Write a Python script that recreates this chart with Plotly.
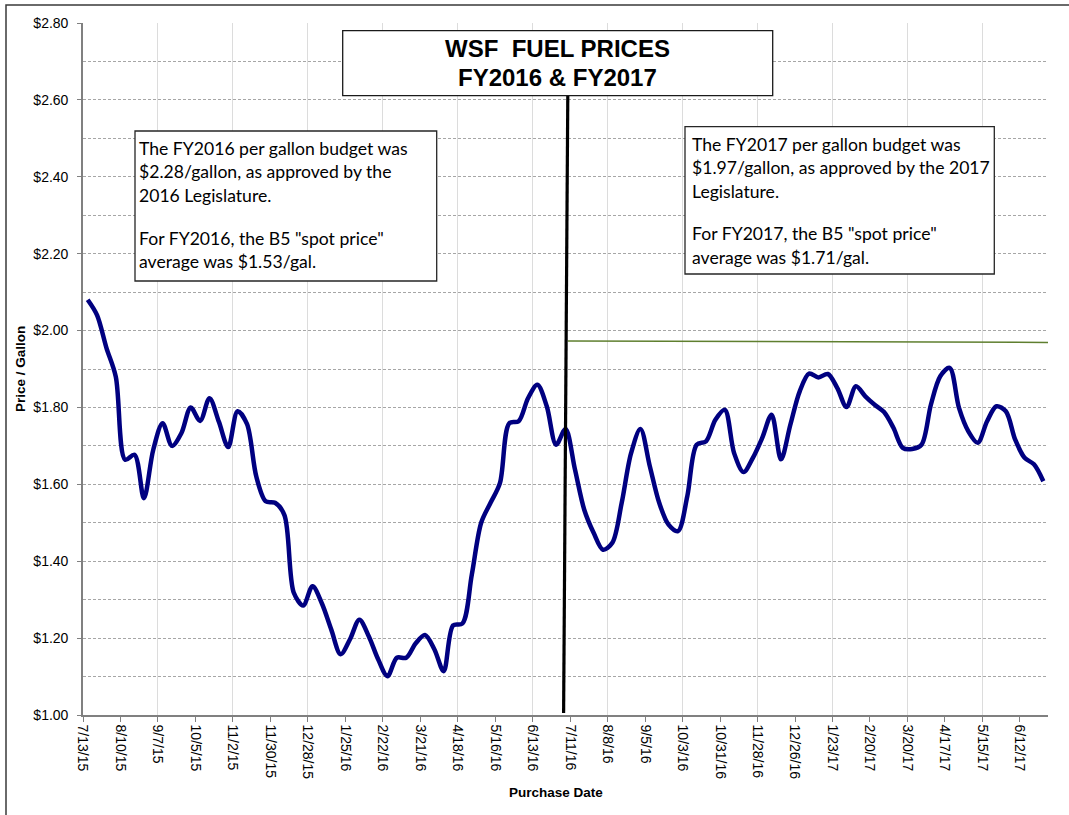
import plotly.graph_objects as go
import pandas as pd

# ---------------- data ----------------
prices = [
    2.080, 2.040, 1.955, 1.880, 1.664, 1.677, 1.564, 1.690, 1.759, 1.700,
    1.733, 1.800, 1.765, 1.824, 1.763, 1.697, 1.790, 1.757, 1.620, 1.556,
    1.552, 1.520, 1.318, 1.285, 1.335, 1.290, 1.222, 1.158, 1.197, 1.248,
    1.205, 1.145, 1.101, 1.149, 1.149, 1.186, 1.208, 1.171, 1.114, 1.233,
    1.238, 1.365, 1.500, 1.552, 1.603, 1.759, 1.764, 1.824, 1.859, 1.803,
    1.703, 1.744, 1.640, 1.534, 1.474, 1.430, 1.448, 1.552, 1.681, 1.744,
    1.647, 1.552, 1.495, 1.478, 1.569, 1.703, 1.712, 1.768, 1.794, 1.681,
    1.632, 1.669, 1.721, 1.781, 1.665, 1.755, 1.842, 1.888, 1.878, 1.887,
    1.851, 1.801, 1.855, 1.829, 1.807, 1.788, 1.747, 1.695, 1.692, 1.703,
    1.807, 1.881, 1.903, 1.799, 1.738, 1.708, 1.764, 1.803, 1.790, 1.716,
    1.669, 1.652, 1.608,
]
first_week = "2015-07-13"
tick_labels = [
    "7/13/15", "8/10/15", "9/7/15", "10/5/15", "11/2/15", "11/30/15",
    "12/28/15", "1/25/16", "2/22/16", "3/21/16", "4/18/16", "5/16/16",
    "6/13/16", "7/11/16", "8/8/16", "9/5/16", "10/3/16", "10/31/16",
    "11/28/16", "12/26/16", "1/23/17", "2/20/17", "3/20/17", "4/17/17",
    "5/15/17", "6/12/17",
]
fy2017_budget = [1.973, 1.969]
title_lines = ["WSF  FUEL PRICES", "FY2016 & FY2017"]
box_left_lines = [
    "The FY2016 per gallon budget was",
    "$2.28/gallon, as approved by the",
    "2016 Legislature.",
    "For FY2016, the B5 \"spot price\"",
    "average was $1.53/gal.",
]
box_right_lines = [
    "The FY2017 per gallon budget was",
    "$1.97/gallon, as approved by the 2017",
    "Legislature.",
    "For FY2017, the B5 \"spot price\"",
    "average was $1.71/gal.",
]

# weekly categories; each point sits in the middle of its week
start = pd.Timestamp(first_week)
dates = start + pd.to_timedelta([7 * k + 3.5 for k in range(len(prices))], unit="D")
x_end = start + pd.Timedelta(days=7 * len(prices))
tickvals = pd.to_datetime(tick_labels, format="%m/%d/%y")
gridvals = tickvals[::2]

# ---------------- layout geometry ----------------
W, H = 1069, 815
L, R, T, B = 83, 1048, 23, 715


def px(x):
    return (x - L) / (R - L)


def py(y):
    return (B - y) / (B - T)


fig = go.Figure()
fig.add_trace(go.Scatter(
    x=dates, y=prices, mode="lines",
    line=dict(color="#000080", width=4.5, shape="spline", smoothing=0.9),
    hoverinfo="skip", showlegend=False,
))

shapes = []
annotations = []

# outer chart border
shapes.append(dict(type="rect", xref="paper", yref="paper",
                   x0=px(6), x1=px(1080), y0=py(5), y1=py(830),
                   line=dict(color="#3a3a3a", width=1.5), fillcolor="rgba(0,0,0,0)",
                   layer="above"))

# FY2017 budget line
shapes.append(dict(type="line", xref="paper", yref="y",
                   x0=px(567.7), x1=px(1048), y0=fy2017_budget[0], y1=fy2017_budget[1],
                   line=dict(color="#5f7f2f", width=1.5), layer="above"))

# fiscal year divider
shapes.append(dict(type="line", xref="paper", yref="paper",
                   x0=px(567.8), x1=px(563.6), y0=py(94), y1=py(713),
                   line=dict(color="#000000", width=3.2), layer="above"))

# title box
shapes.append(dict(type="rect", xref="paper", yref="paper",
                   x0=px(342.7), x1=px(772.7), y0=py(30.7), y1=py(95.7),
                   line=dict(color="#1a1a1a", width=1.3), fillcolor="white", layer="above"))
for txt, yc in zip(title_lines, [48, 77]):
    annotations.append(dict(text="<b>" + txt + "</b>", xref="paper", yref="paper",
                            x=px(557.5), y=py(yc), xanchor="center", yanchor="middle",
                            showarrow=False,
                            font=dict(family="Arial, Liberation Sans", size=24, color="black")))

# text boxes
shapes.append(dict(type="rect", xref="paper", yref="paper",
                   x0=px(135), x1=px(436.7), y0=py(131), y1=py(281),
                   line=dict(color="#262626", width=1.3), fillcolor="white", layer="above"))
shapes.append(dict(type="rect", xref="paper", yref="paper",
                   x0=px(685), x1=px(994.3), y0=py(126.7), y1=py(274),
                   line=dict(color="#262626", width=1.3), fillcolor="white", layer="above"))

for lines, x0, ys in [(box_left_lines, 137, [147, 170.5, 194, 237, 260.5]),
                      (box_right_lines, 689.5, [143, 166, 190, 232, 256])]:
    for txt, yc in zip(lines, ys):
        annotations.append(dict(text=txt, xref="paper", yref="paper",
                                x=px(x0), y=py(yc + 1), xanchor="left", yanchor="middle",
                                showarrow=False,
                                font=dict(family="Lato", size=17.6, color="black")))

# axis titles
annotations.append(dict(text="<b>Price / Gallon</b>", xref="paper", yref="paper",
                        x=px(20), y=py(369), xanchor="center", yanchor="middle",
                        textangle=-90, showarrow=False,
                        font=dict(family="Arial, Liberation Sans", size=13.5, color="black")))
annotations.append(dict(text="<b>Purchase Date</b>", xref="paper", yref="paper",
                        x=px(556), y=py(792), xanchor="center", yanchor="middle",
                        showarrow=False,
                        font=dict(family="Arial, Liberation Sans", size=13.5, color="black")))

fig.update_layout(
    width=W, height=H,
    margin=dict(l=L, r=W - R, t=T, b=H - B, pad=0),
    paper_bgcolor="white", plot_bgcolor="white",
    font=dict(family="Arial, Liberation Sans", size=14, color="black"),
    shapes=shapes, annotations=annotations,
    showlegend=False,
)

fig.update_xaxes(
    type="date", range=[start, x_end],
    tickmode="array", tickvals=tickvals, ticktext=tick_labels,
    tickangle=90, ticks="outside", ticklen=5, tickwidth=1.3, tickcolor="#808080",
    showline=True, linecolor="#808080", linewidth=1.6,
    showgrid=False, zeroline=False,
    tickfont=dict(family="Arial, Liberation Sans", size=14, color="black"),
    minor=dict(tickmode="array", tickvals=gridvals, showgrid=True,
               gridcolor="#dcdcdc", gridwidth=1, ticks=""),
)
fig.update_yaxes(
    range=[1.0, 2.8], dtick=0.2, tick0=1.0, tickformat=".2f", tickprefix="$",
    ticks="outside", ticklen=4, tickwidth=1.3, tickcolor="#808080",
    ticklabelstandoff=6,
    showline=True, linecolor="#808080", linewidth=1.6,
    showgrid=True, gridcolor="#a6a6a6", gridwidth=1, griddash="3px,2px",
    zeroline=False,
    tickfont=dict(family="Arial, Liberation Sans", size=14, color="black"),
    minor=dict(dtick=0.1, tick0=1.0, showgrid=True, gridcolor="#a6a6a6",
               gridwidth=1, griddash="3px,2px", ticks=""),
)

fig.write_html("out.html", config={"displayModeBar": False},
               post_script="document.body.style.margin='0';")
